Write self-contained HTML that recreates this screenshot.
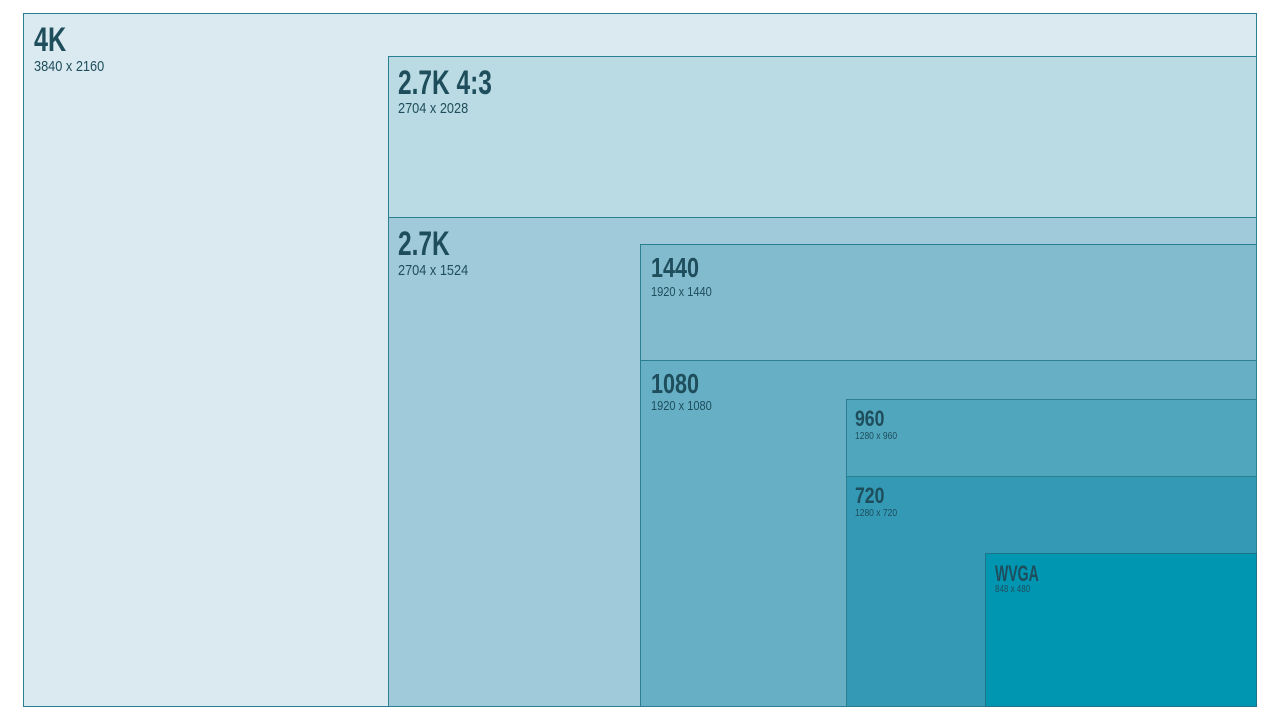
<!DOCTYPE html>
<html><head><meta charset="utf-8"><style>
body{margin:0;width:1280px;height:720px;background:#fff;position:relative;overflow:hidden;font-family:"Liberation Sans Narrow","Liberation Sans",sans-serif;color:#1e4d5c}
.r{position:absolute;box-sizing:border-box;border:1px solid #2a7f90;right:23px;bottom:13px}
.t{position:absolute;font-weight:bold;line-height:1;white-space:nowrap;transform-origin:0 0;transform:scaleX(0.74)}
.s{position:absolute;line-height:1;white-space:nowrap;transform-origin:0 0;transform:scaleX(0.85)}
</style></head><body>
<div class="r" style="left:23px;top:13px;background:#dbeaf0"><span class="t" style="left:10px;top:9px;font-size:34px">4K</span><span class="s" style="left:10px;top:45px;font-size:15px">3840 x 2160</span></div>
<div class="r" style="left:388px;top:56px;background:#badbe4"><span class="t" style="left:9px;top:9px;font-size:34px;transform:scaleX(0.72)">2.7K 4:3</span><span class="s" style="left:9px;top:44px;font-size:15px">2704 x 2028</span></div>
<div class="r" style="left:388px;top:217px;background:#a0cad9"><span class="t" style="left:9px;top:9px;font-size:34px;transform:scaleX(0.72)">2.7K</span><span class="s" style="left:9px;top:45px;font-size:15px">2704 x 1524</span></div>
<div class="r" style="left:640px;top:244px;background:#82bbcd"><span class="t" style="left:10px;top:9px;font-size:28px;transform:scaleX(0.77)">1440</span><span class="s" style="left:10px;top:40px;font-size:13px">1920 x 1440</span></div>
<div class="r" style="left:640px;top:360px;background:#66afc4"><span class="t" style="left:10px;top:9px;font-size:28px;transform:scaleX(0.77)">1080</span><span class="s" style="left:10px;top:38px;font-size:13px">1920 x 1080</span></div>
<div class="r" style="left:846px;top:399px;background:#50a6bc"><span class="t" style="left:8px;top:8px;font-size:22px;transform:scaleX(0.8)">960</span><span class="s" style="left:8px;top:32px;font-size:10px">1280 x 960</span></div>
<div class="r" style="left:846px;top:476px;background:#3399b5"><span class="t" style="left:8px;top:8px;font-size:22px;transform:scaleX(0.8)">720</span><span class="s" style="left:8px;top:32px;font-size:10px">1280 x 720</span></div>
<div class="r" style="left:985px;top:553px;background:#0096b2;border-color:#1d7488"><span class="t" style="left:9px;top:9px;font-size:22px;transform:scaleX(0.64)">WVGA</span><span class="s" style="left:9px;top:31px;font-size:10px;transform:scaleX(0.8)">848 x 480</span></div>
</body></html>
